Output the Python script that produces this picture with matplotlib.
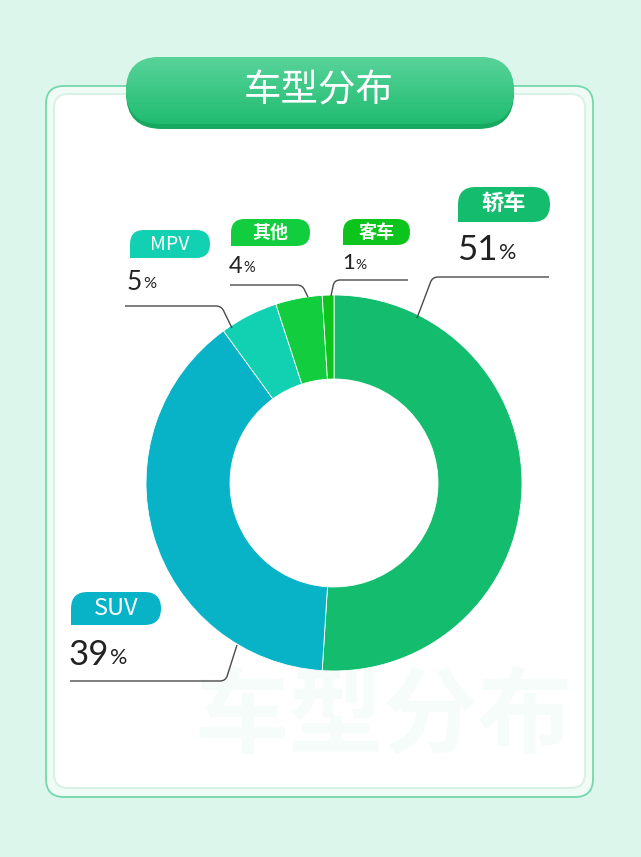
import matplotlib
matplotlib.use("Agg")
import numpy as np
import matplotlib.pyplot as plt
from matplotlib.patches import FancyBboxPatch
from matplotlib.path import Path
from matplotlib.patches import PathPatch
from matplotlib.colors import LinearSegmentedColormap

plt.rcParams['font.family'] = ['Noto Sans CJK SC', 'DejaVu Sans']

# data
categories = ['轿车', 'SUV', 'MPV', '其他', '客车']
shares = [51, 39, 5, 4, 1]
colors = ['#13BD6D', '#08B3C8', '#12D0B2', '#12CE3F', '#0CC41C']
title = '车型分布'

W, H = 641, 857


def Y(y):
    return H - y


fig = plt.figure(figsize=(W / 100, H / 100), dpi=100)
fig.patch.set_facecolor('#DDF6EB')
ax = fig.add_axes([0, 0, 1, 1])
ax.set_xlim(0, W)
ax.set_ylim(0, H)
ax.set_aspect('equal')
ax.axis('off')

# card
ax.add_patch(FancyBboxPatch((46, Y(797)), 547, 711, boxstyle='round,pad=0,rounding_size=18',
                            fc='#F1FBF6', ec='#74D8AC', lw=1.3, zorder=1))
ax.add_patch(FancyBboxPatch((54, Y(788)), 531, 694, boxstyle='round,pad=0,rounding_size=14',
                            fc='white', ec='#D8F3E6', lw=1.5, zorder=1))

# watermark, sits behind the donut
ax.text(383, Y(718), title, ha='center', va='center', fontsize=68, fontweight='bold',
        color='#F5FCF9', zorder=1.5)

# title pill with vertical gradient
ax.add_patch(FancyBboxPatch((126, Y(129)), 388, 72, boxstyle='round,pad=0,rounding_size=36',
                            fc='#17A95F', ec='none', zorder=3))
pill = FancyBboxPatch((126, Y(124)), 388, 67, boxstyle='round,pad=0,rounding_size=33.5',
                      fc='none', ec='none', zorder=3)
ax.add_patch(pill)
grad = np.linspace(0, 1, 64).reshape(-1, 1)
cmap = LinearSegmentedColormap.from_list('pill', ['#58D39A', '#20BC70'])
im = ax.imshow(grad, cmap=cmap, extent=(126, 514, Y(124), Y(57)), origin='upper',
               aspect='auto', zorder=3.2)
im.set_clip_path(pill)
ax.set_xlim(0, W)
ax.set_ylim(0, H)
ax.text(319, Y(91), title, ha='center', va='center', fontsize=27, color='white',
        fontweight='medium', zorder=4)

# donut
cx, cy, R = 334, Y(483), 188
ax.pie(shares, colors=colors, startangle=90, counterclock=False, center=(cx, cy), radius=R,
       wedgeprops=dict(width=R - 104, edgecolor='white', linewidth=0.6, zorder=3), frame=True)
ax.set_xlim(0, W)
ax.set_ylim(0, H)
ax.axis('off')

# label layout: tag box (x, y_top, w, h), value text (x, y), leader polyline
layout = {
    '轿车': dict(box=(458, 187, 92, 35), fs=16, val=(457, 250), vfs=25,
               line=[(549, 277), (432, 277), (417, 318)]),
    'SUV': dict(box=(71, 592, 90, 33), fs=16, val=(69, 655), vfs=25,
                line=[(70, 681), (226, 681), (237, 645)]),
    'MPV': dict(box=(130, 230, 80, 28), fs=13, val=(127, 282), vfs=19,
                line=[(125, 306), (222, 306), (232, 328)]),
    '其他': dict(box=(231, 219, 79, 27), fs=13, val=(229, 266), vfs=17,
               line=[(230, 285), (303, 285), (308, 297)]),
    '客车': dict(box=(343, 219, 67, 26), fs=13, val=(342, 263), vfs=16,
               line=[(408, 280), (334, 280), (331, 296)]),
}

for name, share, col in zip(categories, shares, colors):
    lay = layout[name]
    bx, by, bw, bh = lay['box']
    # pill with a square bottom-left corner
    ax.add_patch(FancyBboxPatch((bx, Y(by + bh)), bw, bh,
                                boxstyle='round,pad=0,rounding_size=%g' % (bh / 2),
                                fc=col, ec='none', zorder=5))
    ax.add_patch(FancyBboxPatch((bx, Y(by + bh)), bh, bh / 2,
                                boxstyle='square,pad=0',
                                fc=col, ec='none', zorder=5))
    latin = name.isascii()
    ax.text(bx + bw / 2, Y(by + bh / 2), name, ha='center', va='center',
            fontsize=lay['fs'] + (1 if latin else 0), color='white',
            fontweight='medium' if latin else 'bold', zorder=6)
    vx, vy = lay['val']
    t = ax.text(vx, Y(vy), str(share), ha='left', va='center', fontsize=lay['vfs'],
                color='#222222', family=['Lato', 'DejaVu Sans'], zorder=6)
    fig.canvas.draw()
    bb = t.get_window_extent().transformed(ax.transData.inverted())
    ax.text(bb.x1 + 1, Y(vy) - lay['vfs'] * 0.12, '%', ha='left', va='center',
            fontsize=lay['vfs'] * 0.62, color='#222222', family=['Lato', 'DejaVu Sans'], zorder=6)
    (x0, y0), (x1, y1), (x2, y2) = lay['line']
    # rounded corner between horizontal run and diagonal
    r = 6
    sx = 1 if x0 > x1 else -1
    verts = [(x0, Y(y0)), (x1 + sx * r, Y(y1)), (x1, Y(y1)),
             (x1 + (x2 - x1) * r / abs(y2 - y1) * 0.8, Y(y1 + (y2 - y1) / abs(y2 - y1) * r)),
             (x2, Y(y2))]
    codes = [Path.MOVETO, Path.LINETO, Path.CURVE3, Path.CURVE3, Path.LINETO]
    ax.add_patch(PathPatch(Path(verts, codes), fc='none', ec='#4A4A4A', lw=1.0, zorder=6))

fig.savefig('out.png', dpi=100, facecolor=fig.get_facecolor())
